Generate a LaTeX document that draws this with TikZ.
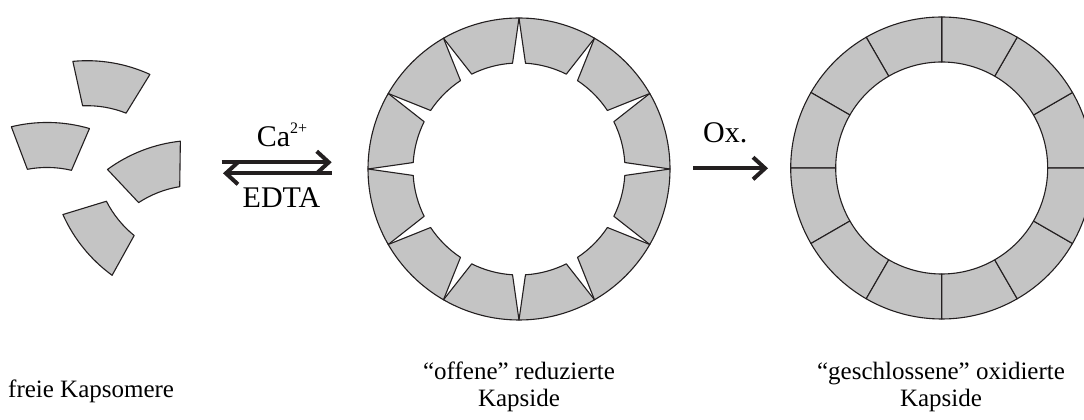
\documentclass[tikz,border=0pt]{standalone}
\usepackage{fontspec}
\setmainfont{Liberation Serif}
\usetikzlibrary{positioning, arrows.meta}

\definecolor{kapsgrau}{RGB}{196,196,196}
\definecolor{kontur}{RGB}{35,31,32}

\begin{document}
\begin{tikzpicture}[
    x=1pt, y=1pt,
    kapsomer/.style={draw=kontur, fill=kapsgrau, line width=1.1pt, line join=round},
    reaktion/.style={draw=kontur, line width=4pt, -{Straight Barb[length=12pt, width=22pt]}},
    reagens/.style={font=\fontsize{30}{30}\selectfont, inner sep=0pt},
    unterschrift/.style={font=\fontsize{25}{27}\selectfont, inner sep=0pt}
  ]
  \useasboundingbox (0,0) rectangle (1084,420);
  \clip (0,0) rectangle (1084,420);

  % freie Kapsomere (x/y/Richtung)
  \foreach \x/\y/\w in {108.5/335/80.4, 50/275/88.7, 150.2/248.5/111.2, 101/186/219} {
    \begin{scope}[shift={(\x,\y)}, rotate=\w-90, shift={(0,-128.5)}]
      \draw[kapsomer] (75:151) arc[start angle=75, end angle=105, radius=151]
        -- (102:106) arc[start angle=102, end angle=78, radius=106] -- cycle;
    \end{scope}
  }

  % Gleichgewichtspfeile
  \coordinate (hin0) at (221.7,257.7);
  \coordinate (hin1) at (331.7,257.7);
  \coordinate (rueck0) at (331.7,246.7);
  \coordinate (rueck1) at (223,246.7);
  \draw[reaktion] (hin0) -- (hin1);
  \draw[reaktion] (rueck0) -- (rueck1);
  \node[reagens, anchor=base west] (calcium) at (256.7,273.3) {Ca\raisebox{13pt}{\fontsize{16}{16}\selectfont 2+}};
  \node[reagens, anchor=base] (edta) at (281.5,212) {EDTA};

  % offene Kapside
  \foreach \a in {0,30,...,330}
    \draw[kapsomer, shift={(519,251)}] (\a:151) arc[start angle=\a, end angle=\a+30, radius=151]
      -- (\a+26.5:106) arc[start angle=\a+26.5, end angle=\a+3.5, radius=106] -- cycle;

  % Oxidation
  \coordinate (ox0) at (693,251.7);
  \coordinate (ox1) at (768,251.7);
  \draw[reaktion] (ox0) -- (ox1);
  \node[reagens, anchor=base west] (oxid) at (703,277) {Ox.};

  % geschlossene Kapside
  \foreach \a in {0,30,...,330}
    \draw[kapsomer, shift={(941.7,252)}] (\a:151) arc[start angle=\a, end angle=\a+30, radius=151]
      -- (\a+30:106) arc[start angle=\a+30, end angle=\a, radius=106] -- cycle;

  % Beschriftung
  \node[unterschrift, anchor=base west] (frei) at (8,22) {freie Kapsomere};
  \node[unterschrift, anchor=base] (offen) at (519,40) {“offene” reduzierte};
  \node[unterschrift, anchor=base] (offenk) at (519,13) {Kapside};
  \node[unterschrift, anchor=base] (zu) at (941,40) {“geschlossene” oxidierte};
  \node[unterschrift, anchor=base] (zuk) at (941,13) {Kapside};
\end{tikzpicture}
\end{document}
